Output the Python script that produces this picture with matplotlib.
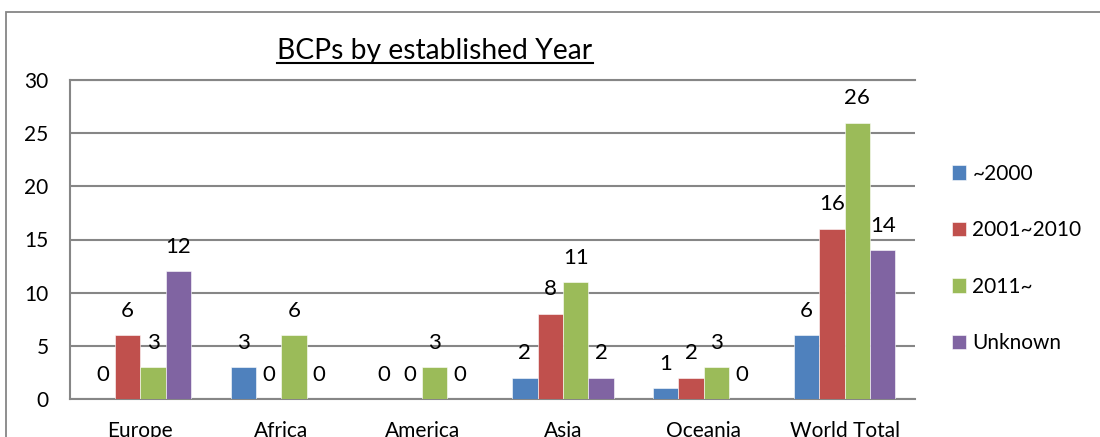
import numpy as np
import matplotlib
matplotlib.use('Agg')
import matplotlib.pyplot as plt
from matplotlib.patches import Rectangle
from matplotlib.lines import Line2D

plt.rcParams['font.family'] = ['Lato', 'DejaVu Sans']

# data
regions = ['Europe', 'Africa', 'America', 'Asia', 'Oceania', 'World Total']
upto_2000 = [0, 3, 0, 2, 1, 6]
y2001_2010 = [6, 0, 0, 8, 2, 16]
from_2011 = [3, 6, 3, 11, 3, 26]
unknown = [12, 0, 0, 2, 0, 14]
series_names = ['~2000', '2001~2010', '2011~', 'Unknown']
colors = ['#4F81BD', '#C0504D', '#9BBB59', '#8064A2']

W, H = 1100, 437
fig = plt.figure(figsize=(W / 100, H / 100), dpi=100)

# plot area in pixel terms (left, top, right, bottom)
L, T, R, B = 70, 80, 915, 399
ax = fig.add_axes([L / W, 1 - B / H, (R - L) / W, (B - T) / H])

grid_c = '#868686'
x = np.arange(len(regions))
bw = 0.18
all_series = [upto_2000, y2001_2010, from_2011, unknown]
for i, (vals, name, c) in enumerate(zip(all_series, series_names, colors)):
    bars = ax.bar(x + (i - 1.5) * bw, vals, bw, color=c, label=name,
                  edgecolor='white', linewidth=0.4, zorder=3)
    for bar, v in zip(bars, vals):
        ax.annotate(str(v), (bar.get_x() + bar.get_width() / 2, v),
                    xytext=(0, 13.3), textcoords='offset points',
                    ha='center', va='baseline', fontsize=16, zorder=4)

ax.set_xlim(-0.5, len(regions) - 0.5)
ax.set_ylim(0, 30)
ax.set_yticks(range(0, 31, 5))
ax.set_xticks(x)
ax.set_xticklabels(regions)
ax.tick_params(axis='both', length=0, labelsize=15, pad=15.5)
ax.yaxis.grid(True, color=grid_c, linewidth=1.5, zorder=0)
ax.set_axisbelow(True)
for side in ['left', 'bottom', 'top']:
    ax.spines[side].set_color(grid_c)
    ax.spines[side].set_linewidth(1.5)
ax.spines['right'].set_visible(False)

# legend on the right
fig.legend(loc='center left', bbox_to_anchor=(951.5 / W, 1 - 258.5 / H),
           frameon=False, fontsize=15, handlelength=0.7, handleheight=0.7,
           handletextpad=0.3, labelspacing=1.75, borderpad=0, borderaxespad=0)

# title with underline
title_y = 1 - 59.5 / H
title = fig.text(435 / W, title_y, 'BCPs by established Year', ha='center',
                 va='baseline', fontsize=20.3)
fig.canvas.draw()
bb = title.get_window_extent(renderer=fig.canvas.get_renderer())
uy = title_y - 3.3 / H
fig.add_artist(Line2D([bb.x0 / W, bb.x1 / W], [uy, uy], color='black',
                      linewidth=1.5, transform=fig.transFigure))

# chart border
fig.add_artist(Rectangle((5.5 / W, -0.1), 1.2, 1.1 - 12.5 / H, fill=False,
                         edgecolor=grid_c, linewidth=1.3,
                         transform=fig.transFigure))

fig.savefig('out.png', dpi=100)
